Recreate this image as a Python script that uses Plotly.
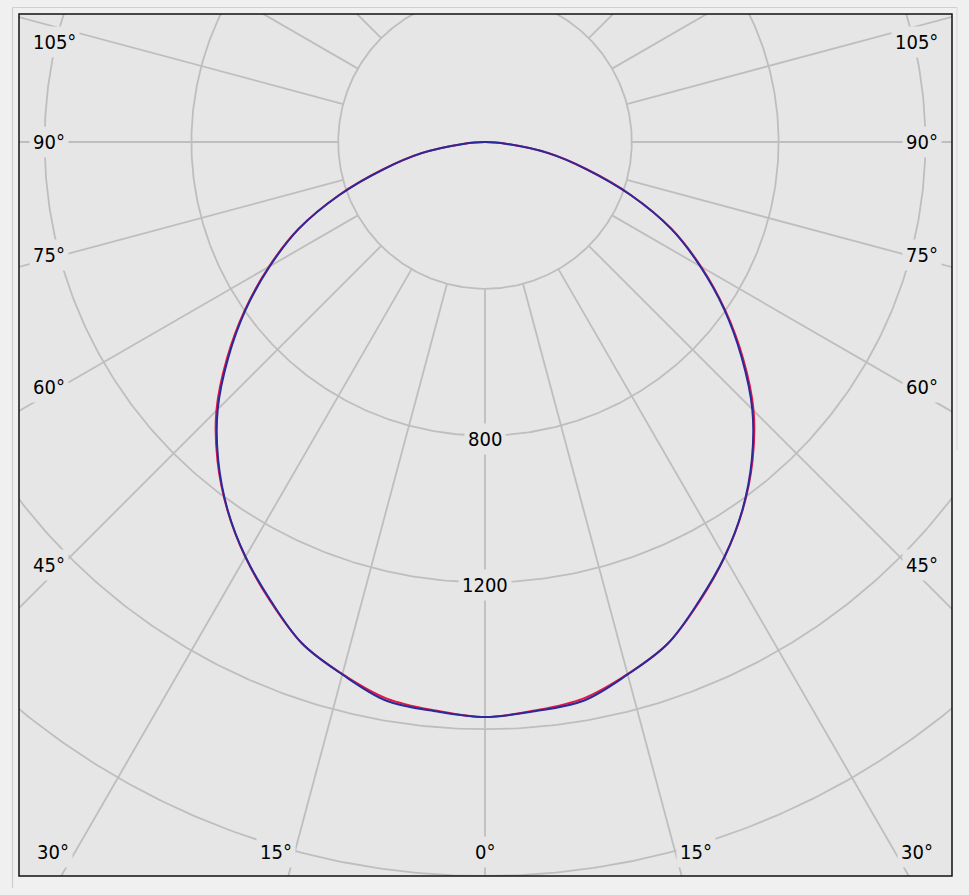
import numpy as np
import plotly.graph_objects as go

# ---- data (luminous intensity, cd/klm) ----
gamma_deg = [0, 5, 10, 15, 20, 25, 30, 35, 40, 45, 50, 55, 60, 65, 70, 75, 80, 85, 90]
i_c0_c180 = [1567, 1555, 1540, 1501, 1455, 1382, 1306, 1224, 1134, 1035, 918, 799, 680, 561, 424, 287, 177, 61, 0]
i_c90_c270 = [1567, 1557, 1546, 1502, 1455, 1380, 1305, 1223, 1131, 1030, 913, 796, 677, 560, 422, 285, 175, 60, 0]
radial_ticks = [400, 800, 1200, 1600, 2000]
radial_labels = ["800", "1200"]
angle_step = 15
angle_labels_side = ["105°", "90°", "75°", "60°", "45°", "30°"]
angle_labels_bottom = ["15°", "0°", "15°"]

# ---- geometry / style ----
W, H = 969, 895
ML, MR, MT, MB = 19, 17, 14, 19
CX, CY = 485, 142          # pixel position of polar centre
S = 0.367                  # pixels per cd/klm

x_range = [(ML - CX) / S, (W - MR - CX) / S]
y_range = [-(H - MB - CY) / S, (CY - MT) / S]

GRID = "rgb(190,190,190)"
PLOT_BG = "#e6e6e6"
PAPER_BG = "#f0f0f0"
FONT = "DejaVu Sans Condensed, DejaVu Sans, Liberation Sans, sans-serif"


def to_xy(angles_deg, r):
    a = np.radians(np.asarray(angles_deg, dtype=float))
    r = np.asarray(r, dtype=float)
    return r * np.sin(a), -r * np.cos(a)


def px_to_data(px, py):
    return (px - CX) / S, (CY - py) / S


fig = go.Figure()

# circles
cx_all, cy_all = [], []
t = np.linspace(0, 360, 721)
for rv in radial_ticks:
    x, y = to_xy(t, np.full_like(t, rv))
    cx_all += list(x) + [None]
    cy_all += list(y) + [None]
fig.add_trace(go.Scatter(x=cx_all, y=cy_all, mode="lines",
                         line=dict(color=GRID, width=1.8), hoverinfo="skip"))

# radial spokes
sx, sy = [], []
for a in range(0, 360, angle_step):
    x, y = to_xy([a, a], [radial_ticks[0], 3000])
    sx += list(x) + [None]
    sy += list(y) + [None]
fig.add_trace(go.Scatter(x=sx, y=sy, mode="lines",
                         line=dict(color=GRID, width=1.8), hoverinfo="skip"))

# curves (mirror: negative side = C180 / C270)
g_full = [-g for g in gamma_deg[::-1]] + gamma_deg[1:]
r0 = i_c0_c180[::-1] + i_c0_c180[1:]
r90 = i_c90_c270[::-1] + i_c90_c270[1:]
x0, y0 = to_xy(g_full, r0)
x9, y9 = to_xy(g_full, r90)
fig.add_trace(go.Scatter(x=x0, y=y0, mode="lines", name="C0 - C180",
                         line=dict(color="#e5173f", width=2, shape="spline", smoothing=1.0)))
fig.add_trace(go.Scatter(x=x9, y=y9, mode="lines", name="C90 - C270",
                         line=dict(color="#2a2a9c", width=2, shape="spline", smoothing=1.0)))

ann = []


def add_label(text, px, py, xanchor="center"):
    x, y = px_to_data(px, py)
    ann.append(dict(x=x, y=y, xref="x", yref="y", text=text, showarrow=False,
                    xanchor=xanchor, yanchor="middle",
                    font=dict(family=FONT, size=20, color="#000000"),
                    bgcolor=PLOT_BG, borderpad=3))


side_y = [42, 142, 255, 387, 565, 852]
for lab, py in zip(angle_labels_side, side_y):
    if lab == "30°":
        add_label(lab, 53, py)
        add_label(lab, 917, py)
    else:
        add_label(lab, 29, py, "left")
        add_label(lab, 942, py, "right")
for lab, px in zip(angle_labels_bottom, [276, 485, 696]):
    add_label(lab, px, 852)

# radial value labels on the 0° spoke
for lab in radial_labels:
    rv = float(lab)
    add_label(lab, CX, CY + rv * S + 3)

shapes = [
    dict(type="rect", xref="paper", yref="paper", x0=0, x1=1, y0=0, y1=1,
         line=dict(color="#111111", width=1.5), layer="above"),
    # outer light frame lines
    dict(type="line", xref="paper", yref="paper",
         x0=(12.5 - ML) / (W - ML - MR), x1=(12.5 - ML) / (W - ML - MR),
         y0=(H - MB - 888) / (H - MT - MB), y1=(H - MB - 7.5) / (H - MT - MB),
         line=dict(color="#cfcfcf", width=1.2)),
    dict(type="line", xref="paper", yref="paper",
         x0=(12.5 - ML) / (W - ML - MR), x1=(957 - ML) / (W - ML - MR),
         y0=(H - MB - 7.5) / (H - MT - MB), y1=(H - MB - 7.5) / (H - MT - MB),
         line=dict(color="#cfcfcf", width=1.2)),
    dict(type="line", xref="paper", yref="paper",
         x0=(957 - ML) / (W - ML - MR), x1=(957 - ML) / (W - ML - MR),
         y0=(H - MB - 450) / (H - MT - MB), y1=(H - MB - 7.5) / (H - MT - MB),
         line=dict(color="#dcdcdc", width=1.2)),
]

fig.update_layout(
    width=W, height=H,
    margin=dict(l=ML, r=MR, t=MT, b=MB),
    paper_bgcolor=PAPER_BG, plot_bgcolor=PLOT_BG,
    showlegend=False,
    xaxis=dict(range=x_range, visible=False, fixedrange=True),
    yaxis=dict(range=y_range, visible=False, fixedrange=True),
    annotations=ann, shapes=shapes,
)

fig.write_html(
    "out.html",
    config={"displayModeBar": False},
    post_script="document.body.style.margin='0';document.body.style.padding='0';"
                "document.body.style.overflow='hidden';"
                "document.body.style.background='" + PAPER_BG + "';",
)
